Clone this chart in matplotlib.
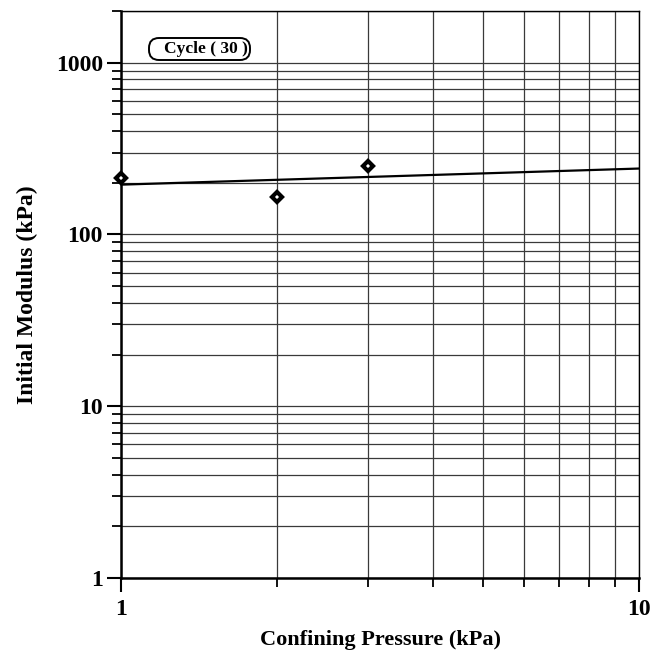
import numpy as np
import matplotlib.pyplot as plt
from matplotlib.patches import FancyBboxPatch
from matplotlib.ticker import LogLocator, NullFormatter, FixedLocator, FixedFormatter

plt.rcParams['font.family'] = ['Liberation Serif', 'DejaVu Serif']
plt.rcParams['font.weight'] = 'bold'

# measured points
pressure = [1, 2, 3]
modulus = [214, 166, 249]

# power-law trend line end points
trend_x = [1, 10]
trend_y = [195, 242]

x_ticks = [1, 10]
y_ticks = [1, 10, 100, 1000]

fig = plt.figure(figsize=(6.64, 6.55), dpi=100)
ax = fig.add_axes([121 / 664, 1 - 578 / 655, (639 - 121) / 664, (578 - 11) / 655])

ax.set_xscale('log')
ax.set_yscale('log')
ax.set_xlim(1, 10)
ax.set_ylim(1, 2000)

# grid at every major and minor decade step
ax.grid(True, which='both', color='#3a3a3a', linewidth=0.9)
ax.set_axisbelow(True)

ax.plot(trend_x, trend_y, color='black', linewidth=1.6, zorder=3)
ax.plot(pressure, modulus, linestyle='none', marker='D', markersize=5,
        markerfacecolor='white', markeredgecolor='black', markeredgewidth=3,
        zorder=4, clip_on=False)

ax.xaxis.set_major_locator(FixedLocator(x_ticks))
ax.xaxis.set_major_formatter(FixedFormatter([str(v) for v in x_ticks]))
ax.xaxis.set_minor_locator(LogLocator(base=10, subs=np.arange(2, 10)))
ax.xaxis.set_minor_formatter(NullFormatter())
ax.yaxis.set_major_locator(FixedLocator(y_ticks))
ax.yaxis.set_major_formatter(FixedFormatter([str(v) for v in y_ticks]))
ax.yaxis.set_minor_locator(LogLocator(base=10, subs=np.arange(2, 10), numticks=20))
ax.yaxis.set_minor_formatter(NullFormatter())

ax.tick_params(which='major', direction='out', length=10, width=1.5, labelsize=17, pad=3)
ax.tick_params(which='minor', direction='out', length=6.5, width=1.3)
ax.tick_params(axis='x', which='major', pad=5)

for side in ['left', 'bottom']:
    ax.spines[side].set_linewidth(1.8)
for side in ['top', 'right']:
    ax.spines[side].set_linewidth(1.0)

ax.set_xlabel('Confining Pressure (kPa)', fontsize=16, fontweight='bold')
ax.set_ylabel('Initial Modulus (kPa)', fontsize=17, fontweight='bold')
ax.xaxis.set_label_coords(0.5, -0.092)
ax.yaxis.set_label_coords(-0.16, 0.5)

# rounded label box, sized in inches so the corners stay round
tag = FancyBboxPatch((1.49, 5.95), 1.01, 0.22,
                     boxstyle='round,pad=0,rounding_size=0.1',
                     transform=fig.dpi_scale_trans, facecolor='white',
                     edgecolor='black', linewidth=1.4, zorder=5)
ax.add_patch(tag)
ax.text(0.164, 0.933, 'Cycle ( 30 )', transform=ax.transAxes, ha='center', va='center',
        fontsize=12.5, fontweight='bold', zorder=6)

fig.savefig('out.png', dpi=100)
